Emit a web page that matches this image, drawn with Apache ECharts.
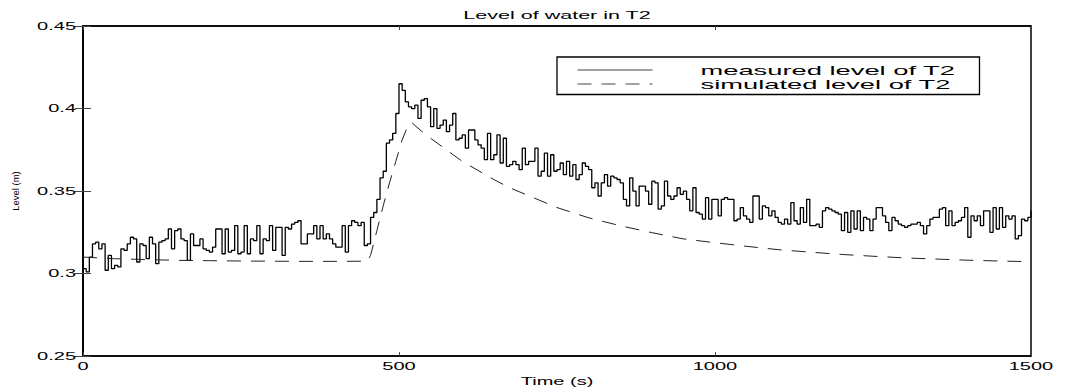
<!DOCTYPE html>
<html>
<head>
<meta charset="utf-8">
<title>Level of water in T2</title>
<script src="https://cdn.jsdelivr.net/npm/echarts@6.0.0/dist/echarts.min.js"></script>
<style>
  html, body { margin: 0; padding: 0; background: #fff; }
  #chart { width: 1066px; height: 391px; }
</style>
</head>
<body>
<div id="chart"></div>
<script>
// measured level, one reading every 5 s from t = 0 to t = 1500
const sampleStep = 5;
const measuredLevel = [
  0.303, 0.301, 0.310, 0.318, 0.319, 0.315, 0.318, 0.302, 0.311, 0.303,
  0.305, 0.304, 0.315, 0.314, 0.318, 0.322, 0.321, 0.307, 0.318, 0.317,
  0.309, 0.322, 0.318, 0.306, 0.319, 0.320, 0.321, 0.327, 0.315, 0.326,
  0.327, 0.321, 0.320, 0.308, 0.324, 0.317, 0.317, 0.321, 0.315, 0.314,
  0.313, 0.316, 0.327, 0.327, 0.312, 0.327, 0.313, 0.314, 0.329, 0.312,
  0.313, 0.329, 0.312, 0.321, 0.320, 0.329, 0.312, 0.321, 0.320, 0.329,
  0.314, 0.328, 0.328, 0.311, 0.328, 0.327, 0.330, 0.331, 0.332, 0.318,
  0.318, 0.324, 0.324, 0.329, 0.321, 0.329, 0.321, 0.324, 0.321, 0.318,
  0.316, 0.316, 0.329, 0.313, 0.329, 0.332, 0.331, 0.329, 0.331, 0.317,
  0.318, 0.334, 0.337, 0.345, 0.358, 0.362, 0.379, 0.381, 0.385, 0.397,
  0.415, 0.411, 0.404, 0.401, 0.400, 0.402, 0.394, 0.405, 0.406, 0.401,
  0.389, 0.400, 0.388, 0.390, 0.393, 0.386, 0.390, 0.397, 0.381, 0.382,
  0.384, 0.376, 0.387, 0.387, 0.381, 0.378, 0.376, 0.369, 0.385, 0.369,
  0.372, 0.384, 0.367, 0.382, 0.365, 0.366, 0.368, 0.366, 0.363, 0.376,
  0.366, 0.368, 0.368, 0.376, 0.359, 0.362, 0.373, 0.359, 0.372, 0.362,
  0.363, 0.367, 0.360, 0.368, 0.359, 0.366, 0.357, 0.360, 0.367, 0.365,
  0.363, 0.352, 0.355, 0.347, 0.355, 0.360, 0.353, 0.359, 0.358, 0.357,
  0.355, 0.345, 0.341, 0.358, 0.350, 0.341, 0.353, 0.353, 0.350, 0.342,
  0.356, 0.355, 0.339, 0.341, 0.356, 0.347, 0.345, 0.347, 0.352, 0.348,
  0.350, 0.345, 0.338, 0.352, 0.337, 0.336, 0.333, 0.346, 0.333, 0.345,
  0.345, 0.335, 0.345, 0.346, 0.345, 0.345, 0.332, 0.333, 0.340, 0.335,
  0.333, 0.331, 0.347, 0.347, 0.333, 0.341, 0.340, 0.335, 0.338, 0.334,
  0.331, 0.330, 0.333, 0.330, 0.343, 0.332, 0.330, 0.340, 0.331, 0.345,
  0.329, 0.329, 0.330, 0.328, 0.338, 0.340, 0.339, 0.338, 0.337, 0.336,
  0.326, 0.337, 0.325, 0.338, 0.327, 0.338, 0.326, 0.334, 0.333, 0.326,
  0.333, 0.340, 0.340, 0.335, 0.331, 0.326, 0.334, 0.332, 0.330, 0.329,
  0.328, 0.329, 0.330, 0.330, 0.331, 0.329, 0.324, 0.329, 0.333, 0.334,
  0.334, 0.339, 0.340, 0.329, 0.338, 0.329, 0.331, 0.332, 0.334, 0.340,
  0.322, 0.335, 0.332, 0.335, 0.329, 0.338, 0.338, 0.325, 0.340, 0.327,
  0.340, 0.328, 0.335, 0.333, 0.335, 0.321, 0.323, 0.333, 0.332, 0.334,
  0.338
];

// simulated level
const simTime = [0, 50, 100, 150, 200, 250, 300, 350, 400, 450, 455, 465, 475, 485, 495,
  505, 515, 520, 535, 550, 575, 600, 625, 650, 675, 700, 750, 800, 850, 900, 950,
  1000, 1050, 1100, 1150, 1200, 1250, 1300, 1350, 1400, 1450, 1500];
const simLevel = [0.310, 0.309, 0.3085, 0.308, 0.3078, 0.3076, 0.3075, 0.3074, 0.3074, 0.3075,
  0.311, 0.326, 0.341, 0.355, 0.368, 0.381, 0.3905, 0.3915, 0.3865, 0.382, 0.375, 0.368,
  0.3625, 0.357, 0.352, 0.348, 0.340, 0.3338, 0.329, 0.3248, 0.321, 0.3187, 0.3165, 0.3145,
  0.313, 0.3116, 0.3105, 0.3095, 0.3088, 0.3081, 0.3076, 0.3072];

const seriesNames = ['measured level of T2', 'simulated level of T2'];
const xMin = 0, xMax = 1500, xStep = 500;
const yMin = 0.25, yMax = 0.45, yStep = 0.05;

const FONT = 'Liberation Sans';
// the original figure is stretched sideways: widen text by font size
const stretch = { 10: 2.0, 10.5: 2.05, 13: 2.1 };

const measuredData = measuredLevel.map((v, i) => [i * sampleStep, v]);
const simData = simTime.map((t, i) => [t, simLevel[i]]);

const chartDom = document.getElementById('chart');
const chart = echarts.init(chartDom, null, { renderer: 'svg' });

const tickLabel = { color: '#000', fontFamily: FONT, fontSize: 10 };

const option = {
  animation: false,
  backgroundColor: '#fff',
  title: {
    text: 'Level of water in T2',
    left: 557,
    top: 9,
    padding: 0,
    textAlign: 'center',
    textStyle: { color: '#000', fontFamily: FONT, fontSize: 10.5, fontWeight: 'normal' }
  },
  legend: {
    data: seriesNames,
    orient: 'vertical',
    left: 557,
    top: 57,
    padding: [6.5, 157.6, 4, 20],
    itemWidth: 75,
    itemHeight: 13,
    itemGap: 1,
    itemStyle: { opacity: 0 },
    lineStyle: { width: 1, color: '#444' },
    borderColor: '#000',
    borderWidth: 1.3,
    backgroundColor: '#fff',
    textStyle: { color: '#000', fontFamily: FONT, fontSize: 13, padding: [0, 0, 0, 43] }
  },
  grid: {
    left: 83,
    top: 26,
    width: 948,
    height: 332,
    show: true,
    borderColor: '#000',
    borderWidth: 1.5,
    backgroundColor: '#fff'
  },
  xAxis: [
    {
      type: 'value',
      min: xMin,
      max: xMax,
      interval: xStep,
      name: 'Time (s)',
      nameLocation: 'middle',
      nameGap: 16,
      nameTextStyle: { color: '#000', fontFamily: FONT, fontSize: 10 },
      axisLine: { show: true, lineStyle: { color: '#000', width: 1.5 } },
      axisTick: { inside: true, length: 4, lineStyle: { color: '#444' } },
      axisLabel: Object.assign({ margin: 5, formatter: v => String(v) }, tickLabel),
      splitLine: { show: false }
    },
    {
      type: 'value',
      position: 'top',
      min: xMin,
      max: xMax,
      interval: xStep,
      axisLine: { show: true, lineStyle: { color: '#000', width: 1.5 } },
      axisTick: { inside: true, length: 4, lineStyle: { color: '#444' } },
      axisLabel: { show: false },
      splitLine: { show: false }
    }
  ],
  yAxis: [
    {
      type: 'value',
      min: yMin,
      max: yMax,
      interval: yStep,
      name: 'Level (m)',
      nameLocation: 'middle',
      nameGap: 63,
      nameTextStyle: { color: '#000', fontFamily: FONT, fontSize: 9.5 },
      axisLine: { show: true, lineStyle: { color: '#000', width: 1.5 } },
      axisTick: { inside: true, length: 8, lineStyle: { color: '#444' } },
      axisLabel: Object.assign({ margin: 7, formatter: v => String(+v.toFixed(2)) }, tickLabel),
      splitLine: { show: false }
    },
    {
      type: 'value',
      position: 'right',
      min: yMin,
      max: yMax,
      interval: yStep,
      axisLine: { show: true, lineStyle: { color: '#000', width: 1.5 } },
      axisTick: { inside: true, length: 8, lineStyle: { color: '#444' } },
      axisLabel: { show: false },
      splitLine: { show: false }
    }
  ],
  series: [
    {
      name: seriesNames[0],
      type: 'line',
      step: 'end',
      symbol: 'none',
      data: measuredData,
      lineStyle: { color: '#000', width: 1.3 },
      itemStyle: { color: '#000' }
    },
    {
      name: seriesNames[1],
      type: 'line',
      symbol: 'none',
      data: simData,
      lineStyle: { color: '#222', width: 1, type: [14, 10] },
      itemStyle: { color: '#222' }
    }
  ]
};

function widenText() {
  chartDom.querySelectorAll('text').forEach(function (t) {
    if (t.getAttribute('lengthAdjust')) return;
    const f = stretch[parseFloat(t.style.fontSize)];
    if (!f) return;
    const w = t.getComputedTextLength();
    if (!w) return;
    t.setAttribute('textLength', (w * f).toFixed(1));
    t.setAttribute('lengthAdjust', 'spacingAndGlyphs');
  });
}

chart.setOption(option);
widenText();
chart.on('finished', widenText);
</script>
</body>
</html>
